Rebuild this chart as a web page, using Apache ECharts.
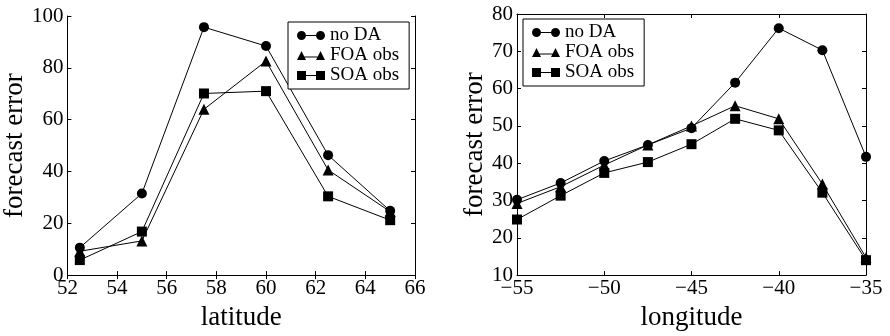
<!DOCTYPE html>
<html><head><meta charset="utf-8">
<script src="https://cdn.jsdelivr.net/npm/echarts@6/dist/echarts.min.js"></script>
<style>html,body{margin:0;padding:0;background:#fff}#c{width:890px;height:336px}</style>
</head><body><div id="c"></div>
<script>
var seriesNames = ['no DA', 'FOA obs', 'SOA obs'];
var latitudes = [52.5, 55, 57.5, 60, 62.5, 65];
var latNoDA = [10.6, 31.5, 95.7, 88.4, 46.3, 24.8];
var latFOA = [9.2, 13.2, 64.0, 82.6, 40.6, 24.5];
var latSOA = [5.8, 16.8, 70.1, 71.0, 30.4, 21.2];
var longitudes = [-55, -52.5, -50, -47.5, -45, -42.5, -40, -37.5, -35];
var lonNoDA = [30.2, 34.7, 40.6, 44.9, 49.4, 61.6, 76.2, 70.3, 41.7];
var lonFOA = [29.2, 33.7, 39.5, 44.9, 50.0, 55.4, 51.9, 34.4, 14.7];
var lonSOA = [24.9, 31.3, 37.4, 40.3, 45.1, 51.9, 48.8, 32.1, 14.0];

var FONT = 'Liberation Serif';
var symbols = ['circle', 'triangle', 'rect'];
var icons = [
  'path://M0,4.5 A4.5,4.5 0 1,1 9,4.5 A4.5,4.5 0 1,1 0,4.5 Z M9,4 L19,4 L19,5 L9,5 Z M19,4.5 A4.5,4.5 0 1,1 28,4.5 A4.5,4.5 0 1,1 19,4.5 Z',
  'path://M0,9 L4.5,0 L9,9 Z M7,5.5 L21,5.5 L21,6.5 L7,6.5 Z M19,9 L23.5,0 L28,9 Z',
  'path://M0,0 L9,0 L9,9 L0,9 Z M9,4 L19,4 L19,5 L9,5 Z M19,0 L28,0 L28,9 L19,9 Z'
];
function zip(xs, ys) { return xs.map(function (x, i) { return [x, ys[i]]; }); }
function fmt(v) { return String(v).replace('-', '\u2212'); }

function mainX(gi, min, max, interval, name) {
  return { type: 'value', gridIndex: gi, min: min, max: max, interval: interval, position: 'bottom',
    name: name, nameLocation: 'middle', nameGap: 23,
    nameTextStyle: { fontFamily: FONT, fontSize: 27, color: '#000' },
    axisLine: { lineStyle: { color: '#000', width: 1 } },
    axisTick: { inside: true, length: 4, lineStyle: { color: '#000' } },
    axisLabel: { fontFamily: FONT, fontSize: 21, color: '#000', margin: 3, formatter: fmt },
    splitLine: { show: false } };
}
function mirrorX(gi, min, max, interval) {
  return { type: 'value', gridIndex: gi, min: min, max: max, interval: interval, position: 'top',
    axisLine: { lineStyle: { color: '#000', width: 1 } },
    axisTick: { inside: true, length: 4, lineStyle: { color: '#000' } },
    axisLabel: { show: false }, splitLine: { show: false } };
}
function mainY(gi, min, max, interval, gap) {
  return { type: 'value', gridIndex: gi, min: min, max: max, interval: interval, position: 'left',
    name: 'forecast error', nameLocation: 'middle', nameGap: gap,
    nameTextStyle: { fontFamily: FONT, fontSize: 27, color: '#000' },
    axisLine: { show: true, lineStyle: { color: '#000', width: 1 } },
    axisTick: { show: true, inside: true, length: 4, lineStyle: { color: '#000' } },
    axisLabel: { fontFamily: FONT, fontSize: 21, color: '#000', margin: 4 },
    splitLine: { show: false } };
}
function mirrorY(gi, min, max, interval) {
  return { type: 'value', gridIndex: gi, min: min, max: max, interval: interval, position: 'right',
    axisLine: { show: true, lineStyle: { color: '#000', width: 1 } },
    axisTick: { show: true, inside: true, length: 4, lineStyle: { color: '#000' } },
    axisLabel: { show: false }, splitLine: { show: false } };
}
function mkSeries(name, idx, gi, data) {
  return { type: 'line', name: name, xAxisIndex: gi * 2, yAxisIndex: gi * 2, data: data,
    symbol: symbols[idx], symbolSize: idx === 1 ? 11 : 10, color: '#000',
    itemStyle: { color: '#000' }, lineStyle: { color: '#000', width: 1 }, animation: false };
}
function legend(left, top) {
  return { left: left, top: top, orient: 'vertical', itemWidth: 28, itemHeight: 9, itemGap: 1,
    padding: [4, 10, 4, 9], borderColor: '#000', borderWidth: 1, backgroundColor: '#fff',
    textStyle: { fontFamily: FONT, fontSize: 19, color: '#000', lineHeight: 18 },
    selectedMode: false,
    data: seriesNames.map(function (n, i) { return { name: n, icon: icons[i] }; }) };
}

var chart = echarts.init(document.getElementById('c'));
chart.setOption({
  animation: false,
  grid: [
    { left: 65, right: 475, top: 16, bottom: 48 },
    { left: 517, right: 24, top: 14, bottom: 51 }
  ],
  xAxis: [mainX(0, 52, 66, 2, 'latitude'), mirrorX(0, 52, 66, 2),
          mainX(1, -55, -35, 5, 'longitude'), mirrorX(1, -55, -35, 5)],
  yAxis: [mainY(0, 0, 100, 20, 38), mirrorY(0, 0, 100, 20),
          mainY(1, 10, 80, 10, 27), mirrorY(1, 10, 80, 10)],
  legend: [legend(288, 22), legend(523, 19)],
  series: [
    mkSeries(seriesNames[0], 0, 0, zip(latitudes, latNoDA)),
    mkSeries(seriesNames[1], 1, 0, zip(latitudes, latFOA)),
    mkSeries(seriesNames[2], 2, 0, zip(latitudes, latSOA)),
    mkSeries(seriesNames[0], 0, 1, zip(longitudes, lonNoDA)),
    mkSeries(seriesNames[1], 1, 1, zip(longitudes, lonFOA)),
    mkSeries(seriesNames[2], 2, 1, zip(longitudes, lonSOA))
  ]
});
</script></body></html>
